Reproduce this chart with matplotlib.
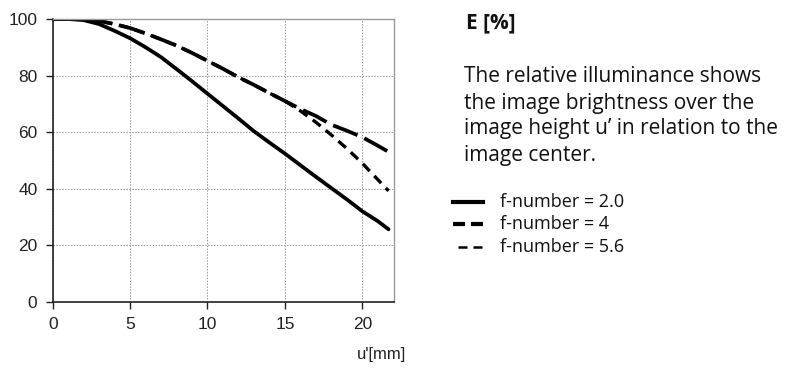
import matplotlib
matplotlib.use("Agg")
import matplotlib.pyplot as plt
from matplotlib.lines import Line2D

x_f20 = [0, 1, 2, 3, 4, 5, 6, 7, 8, 9, 10, 11, 12, 13, 14, 15, 16, 17, 18, 19, 20, 21, 21.7]
y_f20 = [100, 100, 99.6, 98.2, 95.8, 93.2, 90, 86.5, 82.3, 78, 73.6, 69.2, 64.8, 60.3, 56.3, 52.4, 48.3, 44.2, 40.2, 36.2, 32, 28.5, 25.6]

x_f4 = [0, 1, 2, 3, 4, 5, 6, 7, 8, 9, 10, 11, 12, 13, 14, 15, 16, 17, 18, 19, 20, 21, 21.7]
y_f4 = [100, 100, 99.9, 99.3, 98.2, 96.8, 94.9, 92.8, 90.6, 88, 85.2, 82.4, 79.4, 76.7, 73.8, 71, 68.2, 65.7, 62.6, 60.5, 58.2, 55.2, 53]

x_f56 = [0, 1, 2, 3, 4, 5, 6, 7, 8, 9, 10, 11, 12, 13, 14, 15, 16, 17, 18, 19, 20, 21, 21.7]
y_f56 = [100, 100, 99.9, 99.3, 98.2, 96.8, 94.9, 92.8, 90.6, 88, 85.2, 82.4, 79.4, 76.7, 73.8, 71, 67.5, 63.5, 59, 54.2, 49, 43.2, 39.2]

legend_labels = ["f-number = 2.0", "f-number = 4", "f-number = 5.6"]
x_ticks = [0, 5, 10, 15, 20]
y_ticks = [0, 20, 40, 60, 80, 100]

fig = plt.figure(figsize=(8, 3.71), dpi=100)
ax = fig.add_axes([52.7/800, 1 - 301.7/371, (394 - 52.7)/800, (301.7 - 19)/371])

ax.plot(x_f20, y_f20, color="black", lw=2.7, solid_capstyle="round")
ax.plot(x_f4, y_f4, color="black", lw=2.7, dashes=(7, 2))
ax.plot(x_f56, y_f56, color="black", lw=2.4, dashes=(3, 2))

ax.set_xlim(0, 22.05)
ax.set_ylim(0, 100)
ax.set_xticks(x_ticks)
ax.set_yticks(y_ticks)
ax.grid(True, color="#999999", linestyle=(0, (1.5, 1.5)), linewidth=0.7)
ax.set_axisbelow(True)
for side in ["top", "right"]:
    ax.spines[side].set_color("#999999")
    ax.spines[side].set_linewidth(1.0)
for side in ["left", "bottom"]:
    ax.spines[side].set_color("#222222")
    ax.spines[side].set_linewidth(1.2)
ax.tick_params(direction="out", length=5, width=1.0, color="#222222",
               labelsize=12.5, pad=6)
for lbl in ax.get_xticklabels() + ax.get_yticklabels():
    lbl.set_fontfamily("Liberation Sans")
    lbl.set_color("#222222")

fig.text(382/800, 1 - 355/371, "u'[mm]", ha="center", va="center",
         fontsize=12, family="Liberation Sans", color="#222222")

fig.text(466/800, 1 - 23/371, "E [%]", ha="left", va="center",
         fontsize=15, fontweight="bold", family="Open Sans", color="#111111")
desc = ["The relative illuminance shows",
        "the image brightness over the",
        "image height u\u2019 in relation to the",
        "image center."]
for i, line in enumerate(desc):
    fig.text(464/800, 1 - (77 + 26 * i)/371, line, ha="left", va="center",
             fontsize=15, family="Open Sans", color="#111111")

styles = [dict(lw=3), dict(lw=3, dashes=(2.88, 1.44)), dict(lw=1.8, dashes=(3.6, 2.4))]
for i, (lab, st) in enumerate(zip(legend_labels, styles)):
    yy = 1 - (202 + 22.5 * i)/371
    ln = Line2D([453/800, 483/800] if i < 2 else [458/800, 483/800], [yy, yy],
                transform=fig.transFigure, color="black", **st)
    fig.add_artist(ln)
    fig.text(500/800, yy, lab, ha="left", va="center", fontsize=13,
             family="Open Sans", color="#111111")

fig.savefig("out.png", dpi=100)
